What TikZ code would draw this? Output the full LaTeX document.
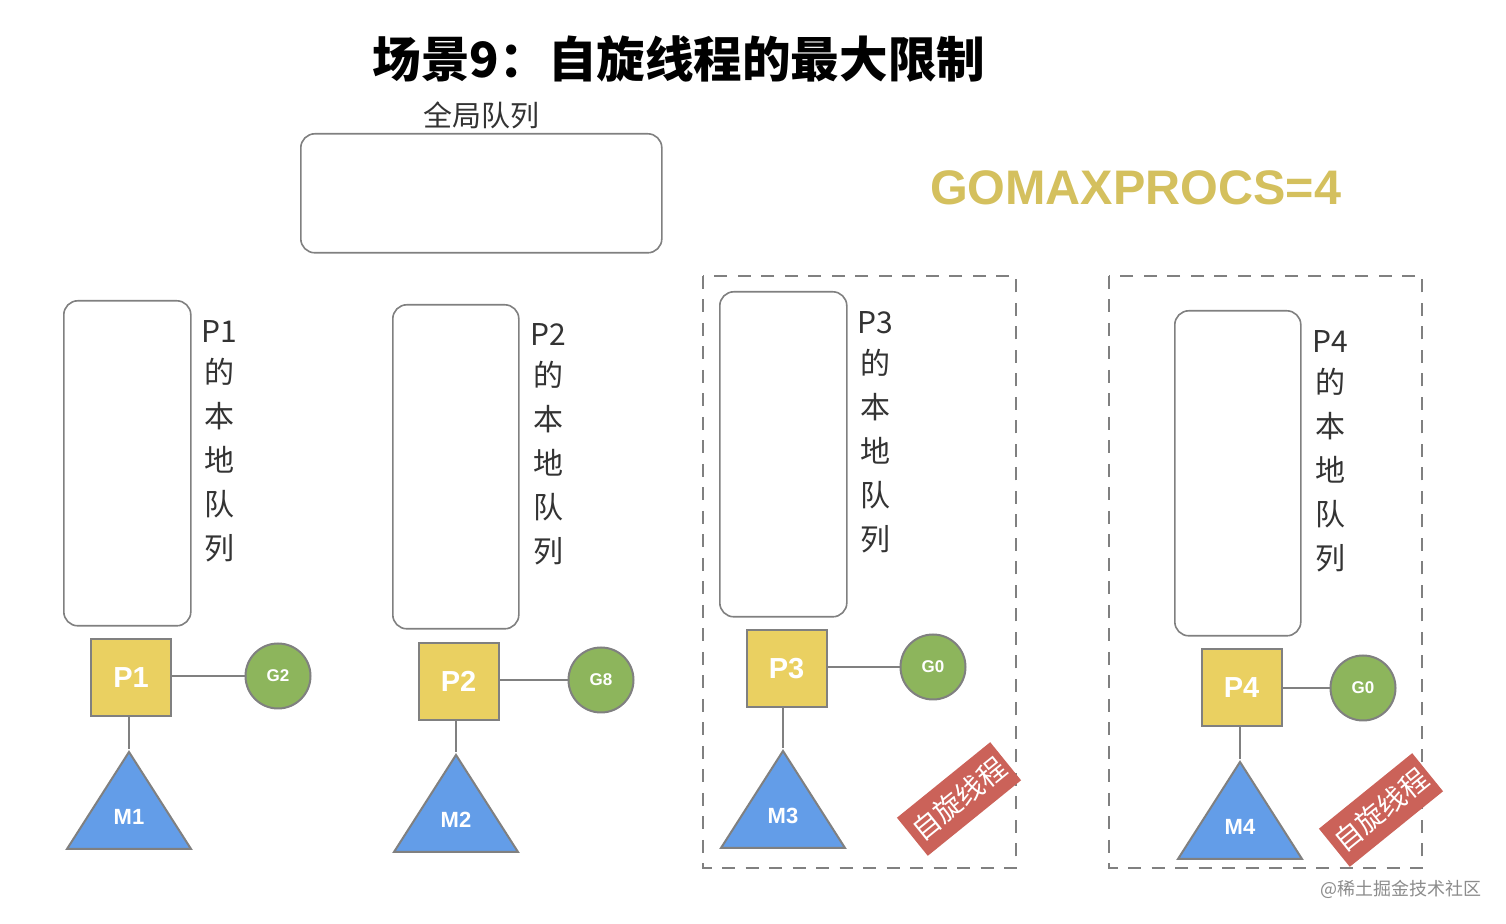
\documentclass[tikz,border=0pt]{standalone}
\usepackage{fontspec}
\setmainfont{Liberation Sans}
\newfontfamily\cjk{Noto Sans CJK SC}
\usetikzlibrary{shapes.geometric}
\definecolor{edgegray}{HTML}{808080}
\definecolor{pyellow}{HTML}{EAD061}
\definecolor{ggreen}{HTML}{8DB55C}
\definecolor{mblue}{HTML}{639DE8}
\definecolor{badgered}{HTML}{CB6259}
\definecolor{gotitle}{HTML}{D4C05E}
\newcommand{\lowerlabel}[1]{\raisebox{-1.8pt}{#1}}
\newcommand{\stacklabel}[1]{#1\\[-1.5pt]的\\本\\地\\队\\列}
\tikzset{
  x=0.5pt,y=-0.5pt,
  queuebox/.style 2 args={draw=edgegray,line width=0.8pt,rounded corners=7pt,anchor=north west,inner sep=0pt,fill=white,minimum width=#1*0.5pt,minimum height=#2*0.5pt},
  pbox/.style={draw=edgegray,line width=1pt,fill=pyellow,minimum width=40pt,minimum height=38.5pt,inner sep=0pt,text=white,font=\fontsize{14.5}{15}\selectfont\bfseries},
  gcirc/.style={draw=edgegray,line width=1pt,fill=ggreen,circle,minimum size=32.5pt,inner sep=0pt,text=white,font=\fontsize{8.5}{9}\selectfont\bfseries},
  mtri/.style={draw=edgegray,line width=1pt,fill=mblue,isosceles triangle,isosceles triangle stretches,shape border rotate=90,minimum width=62pt,minimum height=48.5pt,inner sep=0pt,text=white},
  mlabel/.style={text=white,inner sep=0pt,font=\fontsize{11}{11}\selectfont\bfseries},
  link/.style={draw=edgegray,line width=1pt},
  qlabel/.style={align=center,inner sep=0pt,text=black!80,font=\fontsize{15}{22}\selectfont\cjk},
  dashbox/.style={draw=edgegray,line width=1pt,dash pattern=on 6.5pt off 5.25pt},
  badge/.style={fill=badgered,rotate=39,minimum width=60pt,minimum height=24.5pt,inner sep=0pt,text=white,font=\fontsize{14}{15}\selectfont\cjk},
}
\begin{document}
\begin{tikzpicture}
\useasboundingbox[fill=white] (0,0) rectangle (1506,924);
% title
\node[inner sep=0pt] (title) at (679,59) {\fontsize{24.3}{25}\selectfont\cjk\bfseries 场景9：自旋线程的最大限制};
\node[inner sep=0pt,text=black!80] (globallabel) at (481,115) {\fontsize{14.5}{15}\selectfont\cjk 全局队列};
\node[queuebox={361}{119}] (global) at (300,133) {};
\node[inner sep=0pt,text=gotitle] (gomax) at (1135.5,188) {\fontsize{24.25}{25}\selectfont\bfseries GOMAXPROCS=4};
% dashed groups
\draw[dashbox] (703,276) rectangle (1016,868);
\draw[dashbox] (1109,276) rectangle (1422,868);
% P1
\node[queuebox={127}{325}] (q1) at (63,300) {};
\node[qlabel] (l1) at (219,441) {\stacklabel{P1}};
\node[pbox] (p1) at (131,677.5) {\lowerlabel{P1}};
\node[gcirc] (g1) at (278,676) {G2};
\node[mtri] (m1) at (129,815) {};
\node[mlabel] (t1) at (129,817) {M1};
\draw[link] (p1.east |- g1.west) -- (g1.west);
\draw[link] (p1.south -| m1.apex) -- (m1.apex);
% P2
\node[queuebox={126}{324}] (q2) at (392,304) {};
\node[qlabel] (l2) at (548,444.5) {\stacklabel{P2}};
\node[pbox] (p2) at (458.5,681.5) {\lowerlabel{P2}};
\node[gcirc] (g2) at (601,680) {G8};
\node[mtri] (m2) at (456,818) {};
\node[mlabel] (t2) at (456,820) {M2};
\draw[link] (p2.east |- g2.west) -- (g2.west);
\draw[link] (p2.south -| m2.apex) -- (m2.apex);
% P3
\node[queuebox={127}{325}] (q3) at (719,291) {};
\node[qlabel] (l3) at (875,432) {\stacklabel{P3}};
\node[pbox] (p3) at (786.5,668.5) {\lowerlabel{P3}};
\node[gcirc] (g3) at (933,667) {G0};
\node[mtri] (m3) at (783,814) {};
\node[mlabel] (t3) at (783,816) {M3};
\draw[link] (p3.east |- g3.west) -- (g3.west);
\draw[link] (p3.south -| m3.apex) -- (m3.apex);
\node[badge] (b3) at (959,799) {自旋线程};
% P4
\node[queuebox={126}{325}] (q4) at (1174,310) {};
\node[qlabel] (l4) at (1330,451) {\stacklabel{P4}};
\node[pbox] (p4) at (1241.5,687.5) {\lowerlabel{P4}};
\node[gcirc] (g4) at (1363,688) {G0};
\node[mtri] (m4) at (1240,825) {};
\node[mlabel] (t4) at (1240,827) {M4};
\draw[link] (p4.east |- g4.west) -- (g4.west);
\draw[link] (p4.south -| m4.apex) -- (m4.apex);
\node[badge] (b4) at (1381,810) {自旋线程};
% watermark
\node[inner sep=0pt,text=black!45] (mark) at (1401,889) {\fontsize{9}{9}\selectfont\cjk @稀土掘金技术社区};
\end{tikzpicture}
\end{document}
